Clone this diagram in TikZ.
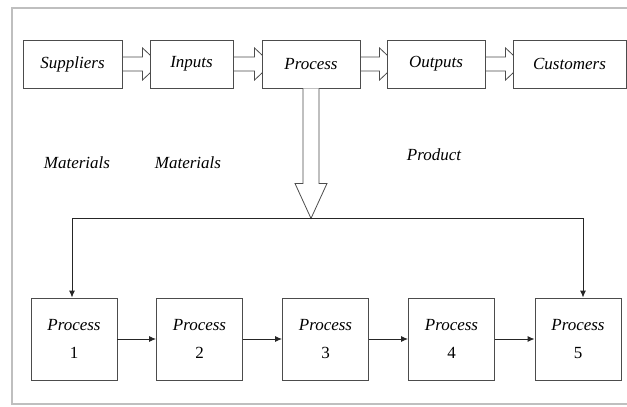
\documentclass[tikz,border=0pt]{standalone}
\usepackage{fontspec}
\setmainfont{Liberation Serif}[ItalicFont={Liberation Serif Italic}]
\usetikzlibrary{arrows.meta,backgrounds,calc}
\newcommand\myblockarr[2]{%
  \begin{pgfonlayer}{background}
  \draw[hollow] ($(#1.east)+(0,-7)$) -- ($(#2.west)+(-7,-7)$) -- ($(#2.west)+(-7,-16)$) -- ($(#2.west)+(10,0)$) -- ($(#2.west)+(-7,16)$) -- ($(#2.west)+(-7,7)$) -- ($(#1.east)+(0,7)$);
  \end{pgfonlayer}}
\begin{document}
\begin{tikzpicture}[x=1pt,y=-1pt,
  box/.style={draw=black!70,line width=0.9pt,fill=white,inner sep=0pt,font=\itshape\fontsize{17}{18}\selectfont},
  pbox/.style={box,minimum width=86pt,minimum height=82pt,align=center,font=\itshape\fontsize{17}{28}\selectfont},
  lbl/.style={font=\itshape\fontsize{17}{18}\selectfont,inner sep=0pt},
  flow/.style={draw=black!85,line width=0.9pt,-{Latex[length=7pt,width=6pt]}},
  hollow/.style={draw=black!70,line width=0.8pt,fill=white}]
\useasboundingbox (0,0) rectangle (627,407);
\draw[gray!50,line width=2.2pt] (628,8) -- (12,8) -- (12,404) -- (628,404);
% top row
\node[box,minimum width=99pt,minimum height=48pt] (sup) at (72.5,64) {Suppliers};
\node[box,minimum width=83pt,minimum height=48pt] (inp) at (191.5,64) {Inputs};
\node[box,minimum width=98pt,minimum height=48pt] (proc) at (311,64) {Process};
\node[box,minimum width=98pt,minimum height=48pt] (out) at (436,64) {Outputs};
\node[box,minimum width=113pt,minimum height=48pt] (cus) at (569.5,64) {Customers};
\myblockarr{sup}{inp}
\myblockarr{inp}{proc}
\myblockarr{proc}{out}
\myblockarr{out}{cus}
% labels
\node[lbl] (m1) at (77,163) {Materials};
\node[lbl] (m2) at (188,163) {Materials};
\node[lbl] (pr) at (434,155) {Product};
% big down arrow
\draw[hollow] ($(proc.south)+(-8,0)$) -- ++(0,95) -- ++(-8,0) -- ++(16,35) -- ++(16,-35) -- ++(-8,0) -- ++(0,-95);
% bottom row
\node[pbox] (p1) at (74,339) {Process\\\upshape 1};
\node[pbox] (p2) at (199.5,339) {Process\\\upshape 2};
\node[pbox] (p3) at (325.5,339) {Process\\\upshape 3};
\node[pbox] (p4) at (451.5,339) {Process\\\upshape 4};
\node[pbox] (p5) at (578,339) {Process\\\upshape 5};
\coordinate (hl) at (72,218);
\coordinate (hr) at (583,218);
\draw[draw=black!85,line width=0.9pt] (hl) -- (hr);
\draw[flow] (hl) -- (hl |- p1.north);
\draw[flow] (hr) -- (hr |- p5.north);
\draw[flow] (p1) -- (p2);
\draw[flow] (p2) -- (p3);
\draw[flow] (p3) -- (p4);
\draw[flow] (p4) -- (p5);
\end{tikzpicture}
\end{document}
